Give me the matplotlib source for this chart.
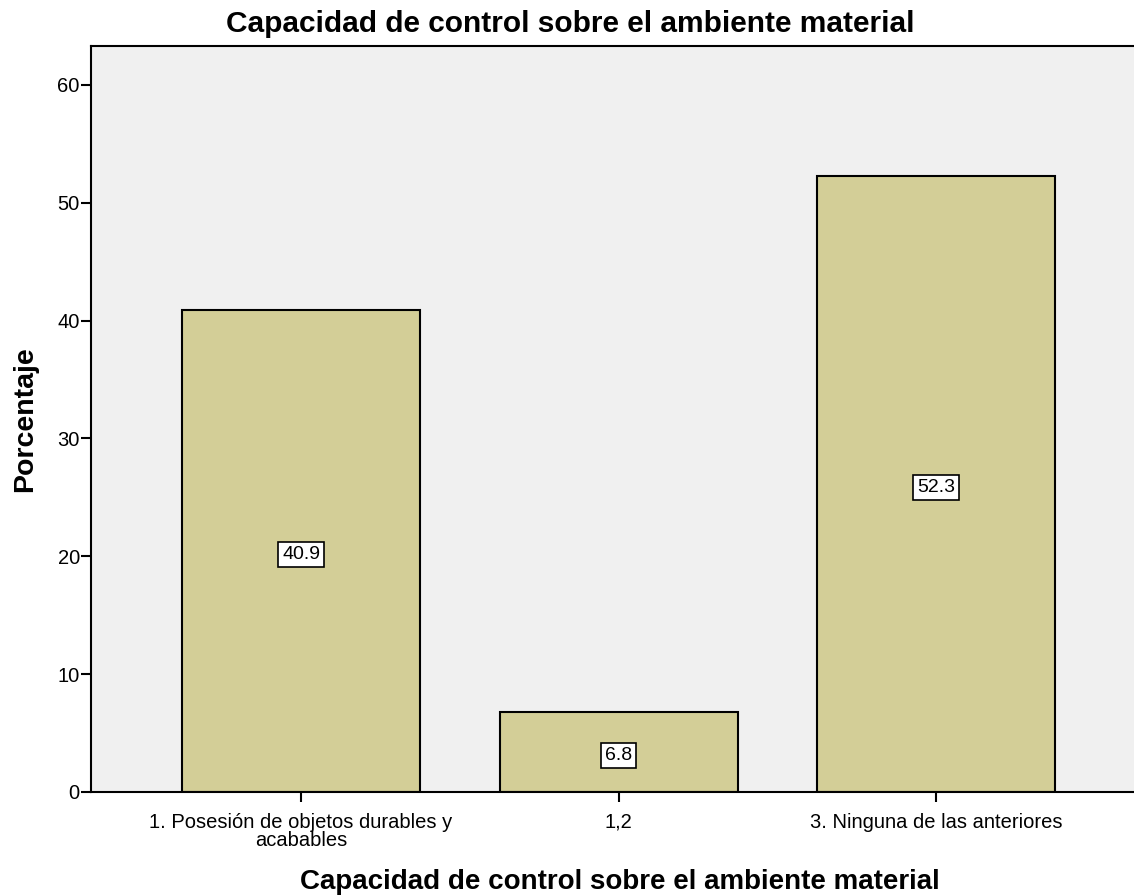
import matplotlib.pyplot as plt
import numpy as np

plt.rcParams['font.family'] = ['Liberation Sans', 'DejaVu Sans']

categories = ['1. Posesión de objetos durables y\nacabables', '1,2', '3. Ninguna de las anteriores']
values = [40.9, 6.8, 52.3]
labels = ['40.9', '6.8', '52.3']

fig = plt.figure(figsize=(11.34, 8.96), dpi=100)
ax = fig.add_axes([0.0802, 0.1161, 0.93, 0.8326])
ax.set_facecolor('#f0f0f0')

x = np.arange(len(categories))
ax.bar(x, values, width=0.75, color='#d3ce97', edgecolor='black', linewidth=1.5)
for xi, v, lab in zip(x, values, labels):
    ax.text(xi, v / 2 - 0.3, lab, ha='center', va='center', fontsize=14,
            bbox=dict(boxstyle='square,pad=0.2', facecolor='white', edgecolor='black', linewidth=1.2))

ax.set_xlim(-0.662, 2.66)
ax.set_ylim(0, 63.3)
ax.set_yticks([0, 10, 20, 30, 40, 50, 60])
ax.set_xticks(x)
ax.set_xticklabels(categories, fontsize=14.5, linespacing=0.92)
ax.tick_params(axis='y', labelsize=14.5, length=7, width=1.5, pad=1)
ax.tick_params(axis='x', length=7, width=1.5, pad=8)
for s in ['left', 'bottom', 'top']:
    ax.spines[s].set_linewidth(1.5)
ax.spines['right'].set_visible(False)

fig.text(0.503, 0.973, 'Capacidad de control sobre el ambiente material', fontsize=21.5,
         fontweight='bold', ha='center', va='center')
fig.text(0.547, 0.0156, 'Capacidad de control sobre el ambiente material', fontsize=20,
         fontweight='bold', ha='center', va='center')
ax.set_ylabel('Porcentaje', fontsize=20.5, fontweight='bold', labelpad=14)

fig.savefig('out.png', dpi=100)
